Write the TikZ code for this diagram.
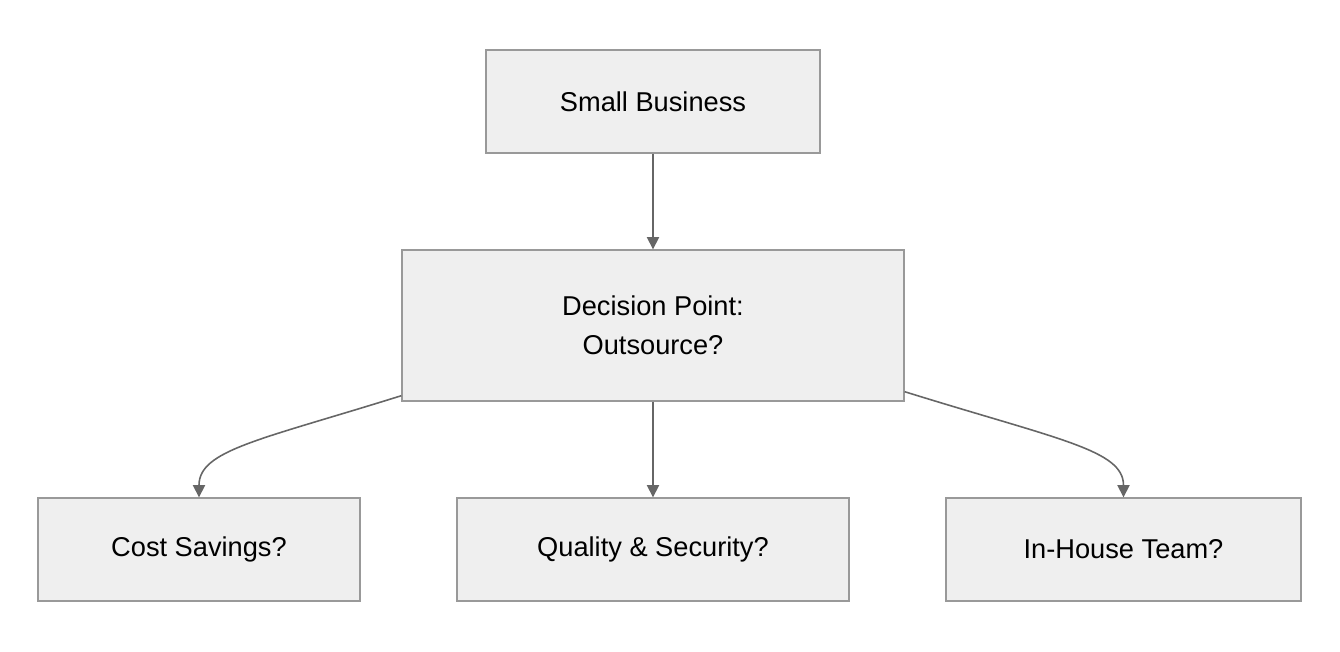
\documentclass[tikz,border=0pt]{standalone}
\usepackage{fontspec}
\setmainfont{Liberation Sans}
\usetikzlibrary{arrows.meta}
\definecolor{boxfill}{HTML}{EFEFEF}
\definecolor{boxline}{HTML}{999999}
\definecolor{edgeline}{HTML}{666666}
\begin{document}
\begin{tikzpicture}[x=0.02cm, y=-0.02cm,
    box/.style={draw=boxline, fill=boxfill, line width=0.8pt, minimum height=2.06cm,
      align=center, font=\fontsize{15.5}{22}\selectfont, inner sep=0pt},
    edge/.style={draw=edgeline, line width=0.9pt, -{Triangle[length=7pt, width=7pt]}}]
    \useasboundingbox (0,0) rectangle (1340,652);

    \node[box, minimum width=6.68cm] (biz) at (653,101.5) {Small Business};
    \node[box, minimum width=10.04cm, minimum height=3.02cm] (dec) at (653,325.5)
      {Decision Point:\\ Outsource?};
    \node[box, minimum width=6.44cm] (cost) at (199,549.5) {Cost Savings?};
    \node[box, minimum width=7.84cm] (qual) at (653,549.5) {Quality \& Security?};
    \node[box, minimum width=7.10cm] (team) at (1123.5,549.5) {In-House Team?};

    \draw[edge] (biz) -- (dec);
    \draw[edge] (dec) -- (qual);
    \draw[edge] ([yshift=0.12cm]dec.south west) .. controls (260,440) and (199,450) .. (cost.north);
    \draw[edge] ([yshift=0.2cm]dec.south east) .. controls (1060,440) and (1123.5,450) .. (team.north);
\end{tikzpicture}
\end{document}
